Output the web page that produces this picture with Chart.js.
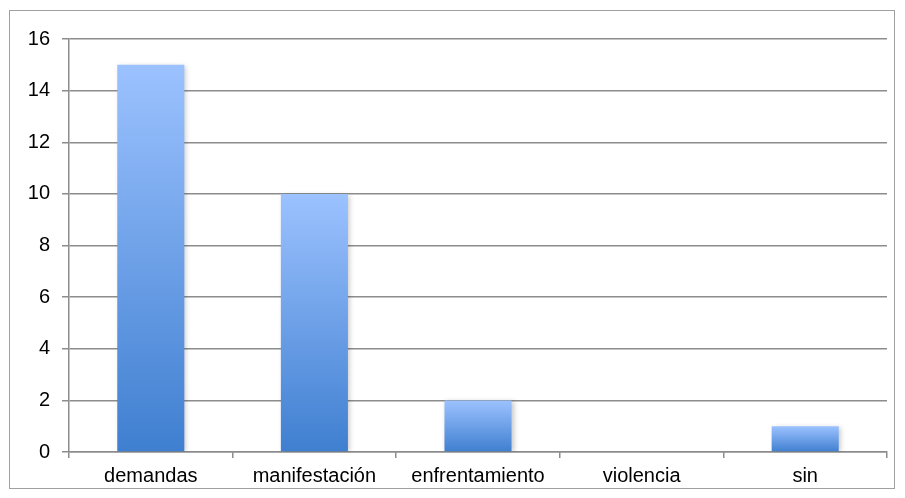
<!DOCTYPE html>
<html lang="es">
<head>
<meta charset="UTF-8">
<title>Gráfico</title>
<style>
  body { margin: 0; background: #fff; }
  #wrap { position: relative; width: 905px; height: 498px; }
  #frame { position: absolute; left: 9px; top: 10px; width: 886px; height: 479px; border: 1.5px solid #a0a0a0; box-sizing: border-box; }
  canvas { position: absolute; left: 0; top: 0; }
</style>
<script src="https://cdn.jsdelivr.net/npm/chart.js@4"></script>
</head>
<body>
<div id="wrap">
  <div id="frame"></div>
  <canvas id="chart" width="905" height="498"></canvas>
</div>
<script>
const categories = ['demandas', 'manifestación', 'enfrentamiento', 'violencia', 'sin'];
const values = [15, 10, 2, 0, 1];
const yMax = 16;
const yStep = 2;

const gridColor = '#8c8c8c';
const labelFont = { family: 'Liberation Sans, Arial, sans-serif', size: 20 };

// gradiente vertical por barra (claro arriba, oscuro abajo)
function barFill(ctx) {
  const chart = ctx.chart;
  if (!chart.chartArea) return '#6fa0e8';
  const y = chart.scales.y;
  const v = ctx.raw || 0;
  const top = y.getPixelForValue(v);
  const bottom = y.getPixelForValue(0);
  if (bottom - top < 1) return '#4080d0';
  const g = chart.ctx.createLinearGradient(0, top, 0, bottom);
  g.addColorStop(0, '#9cc2ff');
  g.addColorStop(1, '#3f7fd0');
  return g;
}

const shadowPlugin = {
  id: 'barShadow',
  beforeDatasetsDraw(chart) {
    const c = chart.ctx;
    c.save();
    c.shadowColor = 'rgba(0,0,0,0.22)';
    c.shadowBlur = 5;
    c.shadowOffsetX = 2;
    c.shadowOffsetY = 1;
  },
  afterDatasetsDraw(chart) {
    chart.ctx.restore();
  }
};

new Chart(document.getElementById('chart'), {
  type: 'bar',
  data: {
    labels: categories,
    datasets: [{
      data: values,
      backgroundColor: barFill,
      borderWidth: 0,
      barPercentage: 0.41,
      categoryPercentage: 1
    }]
  },
  options: {
    responsive: false,
    animation: false,
    events: [],
    layout: { padding: { top: 39, right: 18, left: 0, bottom: 0 } },
    plugins: { legend: { display: false }, tooltip: { enabled: false } },
    scales: {
      x: {
        grid: { display: true, drawOnChartArea: false, drawTicks: true, tickLength: 6, color: gridColor, lineWidth: 1.5 },
        border: { display: true, color: gridColor, width: 1.5 },
        ticks: { color: '#000', font: labelFont, padding: 6, maxRotation: 0 },
        afterFit(scale) { scale.height = 46; }
      },
      y: {
        min: 0,
        max: yMax,
        grid: { color: gridColor, lineWidth: 1.5, tickLength: 7 },
        border: { display: true, color: gridColor, width: 1.5 },
        ticks: { stepSize: yStep, color: '#000', font: labelFont, padding: 12 },
        afterFit(scale) { scale.width = 69; }
      }
    }
  },
  plugins: [shadowPlugin]
});
</script>
</body>
</html>
